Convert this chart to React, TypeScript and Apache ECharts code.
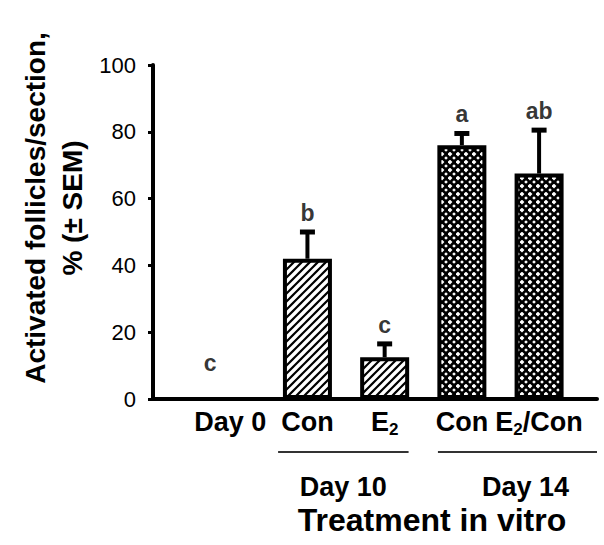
import React, { useEffect, useRef } from 'react';
import * as echarts from 'echarts';

// ---- data ----
const categories = ['Day 0', 'Con', 'E2', 'Con', 'E2/Con'];
const means = [0, 42, 12.5, 76, 67.5];
const sems = [0, 8, 4, 3.5, 13];
const letters = ['c', 'b', 'c', 'a', 'ab'];
const fills = ['none', 'stripe', 'stripe', 'dots', 'dots'];
const groupLabels = ['Day 10', 'Day 14'];
const groupSpans = [
  [0.62, 2.31],
  [2.69, 4.75],
];
const yTitle = ['Activated follicles/section,', '% (\u00b1 SEM)'];
const xTitle = 'Treatment in vitro';

const FONT = '"Liberation Sans", Arial, sans-serif';

function makeTile(kind: string) {
  const c = document.createElement('canvas');
  c.width = 8;
  c.height = 8;
  const g = c.getContext('2d')!;
  g.fillStyle = '#000';
  g.fillRect(0, 0, 8, 8);
  g.fillStyle = '#fff';
  g.strokeStyle = '#fff';
  if (kind === 'stripe') {
    g.lineWidth = 3.4;
    g.beginPath();
    g.moveTo(-2, 10);
    g.lineTo(10, -2);
    g.moveTo(-2, 2);
    g.lineTo(2, -2);
    g.moveTo(6, 10);
    g.lineTo(10, 6);
    g.stroke();
  } else {
    g.beginPath();
    g.moveTo(2, -0.4);
    g.lineTo(4.4, 2);
    g.lineTo(2, 4.4);
    g.lineTo(-0.4, 2);
    g.closePath();
    g.fill();
    g.beginPath();
    g.moveTo(6, 4.2);
    g.lineTo(7.8, 6);
    g.lineTo(6, 7.8);
    g.lineTo(4.2, 6);
    g.closePath();
    g.fill();
  }
  return c;
}

function labelRich(s: string) {
  if (s.startsWith('E2')) {
    return '{m|E}{s|2}' + (s.length > 2 ? '{m|' + s.slice(2) + '}' : '');
  }
  return '{m|' + s + '}';
}

export default function App() {
  const ref = useRef<HTMLDivElement>(null);
  useEffect(() => {
    if (!ref.current) return;
    const chart = echarts.init(ref.current, undefined, { renderer: 'svg' });
    const tiles: Record<string, any> = {
      stripe: { image: makeTile('stripe'), repeat: 'repeat', imageWidth: 8, imageHeight: 8 },
      dots: { image: makeTile('dots'), repeat: 'repeat', imageWidth: 8, imageHeight: 8 },
    };
    const option: any = {
      animation: false,
      grid: { left: 153, right: 7, top: 65, bottom: 146 },
      xAxis: {
        type: 'value',
        min: -1,
        max: 4.75,
        interval: 1,
        axisLine: { show: true, onZero: false, lineStyle: { color: '#000', width: 4 } },
        axisTick: { show: false },
        splitLine: { show: false },
        axisLabel: {
          margin: 7,
          color: '#000',
          formatter: (v: number) => {
            const i = Math.round(v);
            if (Math.abs(v - i) > 1e-6 || i < 0 || i >= categories.length) return '';
            return labelRich(categories[i]);
          },
          rich: {
            m: { fontFamily: FONT, fontSize: 27, fontWeight: 'bold', color: '#000', lineHeight: 32 },
            s: {
              fontFamily: FONT,
              fontSize: 17,
              fontWeight: 'bold',
              color: '#000',
              lineHeight: 10,
              verticalAlign: 'bottom',
            },
          },
        },
      },
      yAxis: {
        type: 'value',
        min: 0,
        max: 100,
        interval: 20,
        axisLine: { show: true, onZero: false, lineStyle: { color: '#000', width: 4 } },
        axisTick: { show: true, length: 5, lineStyle: { color: '#000', width: 3 } },
        splitLine: { show: false },
        axisLabel: { margin: 17, color: '#000', fontFamily: FONT, fontSize: 22 },
      },
      series: [
        {
          type: 'bar',
          barWidth: 49,
          data: means.map((m, i) => ({
            value: [i, m],
            itemStyle: {
              color: fills[i] === 'none' ? '#fff' : tiles[fills[i]],
              borderColor: '#000',
              borderWidth: fills[i] === 'none' ? 0 : 4,
            },
          })),
          z: 2,
        },
        {
          type: 'custom',
          data: means.map((m, i) => [i, m, sems[i]]),
          z: 3,
          renderItem: (_p: any, api: any) => {
            const x = api.value(0);
            const m = api.value(1);
            const e = api.value(2);
            if (!e) return null;
            const b = api.coord([x, m]);
            const t = api.coord([x, m + e]);
            return {
              type: 'group',
              children: [
                { type: 'line', shape: { x1: b[0], y1: b[1], x2: t[0], y2: t[1] }, style: { stroke: '#000', lineWidth: 4 } },
                {
                  type: 'line',
                  shape: { x1: t[0] - 7.5, y1: t[1], x2: t[0] + 7.5, y2: t[1] },
                  style: { stroke: '#000', lineWidth: 5 },
                },
              ],
            };
          },
        },
        {
          type: 'scatter',
          symbolSize: 1,
          itemStyle: { color: 'rgba(0,0,0,0)' },
          z: 4,
          data: means.map((m, i) =>
            i === 0
              ? { value: [i, m + sems[i]], label: { offset: [-20, -17] } }
              : { value: [i, m + sems[i]] }
          ),
          label: {
            show: true,
            position: 'top',
            distance: 7,
            formatter: (p: any) => letters[p.dataIndex],
            fontFamily: FONT,
            fontSize: 23,
            fontWeight: 'bold',
            color: '#000',
          },
        },
        {
          type: 'custom',
          data: groupSpans.map((s) => [s[0], s[1]]),
          encode: { x: [0, 1] },
          clip: false,
          z: 4,
          renderItem: (p: any, api: any) => {
            const s = api.value(0);
            const e = api.value(1);
            const a = api.coord([s, 0]);
            const b = api.coord([e, 0]);
            const y0 = a[1];
            return {
              type: 'group',
              children: [
                {
                  type: 'line',
                  shape: { x1: a[0], y1: y0 + 53, x2: b[0], y2: y0 + 53 },
                  style: { stroke: '#333', lineWidth: 2 },
                },
                {
                  type: 'text',
                  style: {
                    text: groupLabels[p.dataIndex],
                    x: (a[0] + b[0]) / 2 + (p.dataIndex === 1 ? 8 : 0),
                    y: y0 + 88,
                    align: 'center',
                    verticalAlign: 'middle',
                    textAlign: 'center',
                    textVerticalAlign: 'middle',
                    fontFamily: FONT,
                    fontSize: 27,
                    fontWeight: 'bold',
                    fill: '#000',
                  },
                },
              ],
            };
          },
        },
      ],
      graphic: [
        {
          type: 'text',
          x: 53.5,
          y: 208,
          rotation: Math.PI / 2,
          style: {
            text: yTitle.join('\n'),
            align: 'center',
            verticalAlign: 'middle',
            textAlign: 'center',
            textVerticalAlign: 'middle',
            lineHeight: 37,
            fontFamily: FONT,
            fontSize: 28,
            fontWeight: 'bold',
            fill: '#000',
          },
        },
        {
          type: 'text',
          x: 432,
          y: 520,
          style: {
            text: xTitle,
            align: 'center',
            verticalAlign: 'middle',
            textAlign: 'center',
            textVerticalAlign: 'middle',
            fontFamily: FONT,
            fontSize: 32,
            fontWeight: 'bold',
            fill: '#000',
          },
        },
      ],
    };
    chart.setOption(option);
    return () => chart.dispose();
  }, []);
  return (
    <div
      ref={ref}
      style={{ position: 'absolute', left: 0, top: 0, width: 604, height: 545, background: '#fff' }}
    />
  );
}
